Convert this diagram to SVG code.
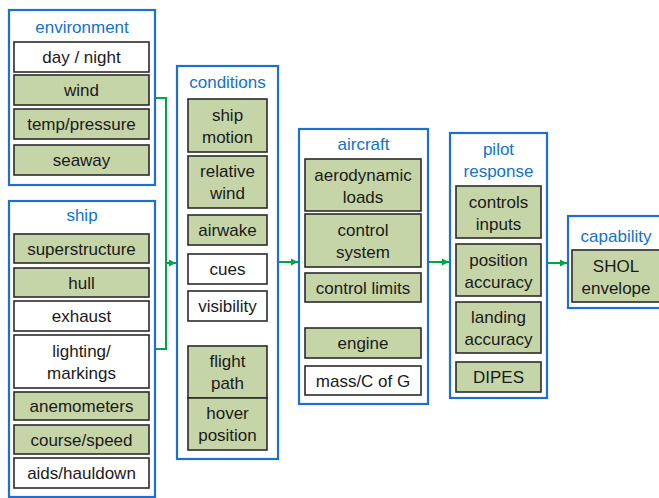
<svg xmlns="http://www.w3.org/2000/svg" width="659" height="498" viewBox="0 0 659 498">
<defs>
<style>
.grp{fill:#fff;stroke:#1f6fd1;stroke-width:2.2}
.g{fill:#c6d5a8;stroke:#2b2b2b;stroke-width:1.6}
.w{fill:#fff;stroke:#2b2b2b;stroke-width:1.6}
text{font-family:"Liberation Sans",Arial,sans-serif;font-size:17px;fill:#1a1a1a;text-anchor:middle}
.t{fill:#1273c9}
.c{fill:none;stroke:#00a443;stroke-width:2}
</style>
<marker id="ah" markerUnits="userSpaceOnUse" markerWidth="8" markerHeight="8" refX="7" refY="4" orient="auto">
<path d="M0,0.5 L7,4 L0,7.5 Z" fill="#00a443"/>
</marker>
</defs>

<g id="connectors">
<path class="c" d="M155 98 H166 V349 H155"/>
<path class="c" d="M166 263 H176" marker-end="url(#ah)"/>
<path class="c" d="M278 262 H298" marker-end="url(#ah)"/>
<path class="c" d="M428 262 H449" marker-end="url(#ah)"/>
<path class="c" d="M547 263 H567" marker-end="url(#ah)"/>
</g>

<g id="environment">
<rect class="grp" x="9" y="10" width="146" height="175"/>
<text class="t" x="82" y="33">environment</text>
<rect class="w" x="14" y="42" width="135" height="30"/><text x="81.5" y="63">day / night</text>
<rect class="g" x="14" y="75" width="135" height="30"/><text x="81.5" y="96">wind</text>
<rect class="g" x="14" y="109" width="135" height="30"/><text x="81.5" y="130">temp/pressure</text>
<rect class="g" x="14" y="145" width="135" height="30"/><text x="81.5" y="166">seaway</text>
</g>

<g id="ship">
<rect class="grp" x="9" y="201" width="146" height="296"/>
<text class="t" x="82" y="221">ship</text>
<rect class="g" x="14" y="234" width="135" height="29"/><text x="81.5" y="255">superstructure</text>
<rect class="g" x="14" y="268" width="135" height="29"/><text x="81.5" y="289">hull</text>
<rect class="w" x="14" y="301" width="135" height="30"/><text x="81.5" y="322">exhaust</text>
<rect class="w" x="14" y="335" width="135" height="53"/><text x="81.5" y="357">lighting/</text><text x="81.5" y="379">markings</text>
<rect class="g" x="14" y="392" width="135" height="28"/><text x="81.5" y="412">anemometers</text>
<rect class="g" x="14" y="425" width="135" height="29"/><text x="81.5" y="446">course/speed</text>
<rect class="w" x="14" y="458" width="135" height="30"/><text x="81.5" y="479">aids/hauldown</text>
</g>

<g id="conditions">
<rect class="grp" x="177" y="66" width="101" height="393"/>
<text class="t" x="227.5" y="88">conditions</text>
<rect class="g" x="188" y="99" width="79" height="53"/><text x="227.5" y="121">ship</text><text x="227.5" y="143">motion</text>
<rect class="g" x="188" y="156" width="79" height="52"/><text x="227.5" y="177">relative</text><text x="227.5" y="199">wind</text>
<rect class="g" x="188" y="215" width="79" height="30"/><text x="227.5" y="236">airwake</text>
<rect class="w" x="188" y="254" width="79" height="30"/><text x="227.5" y="275">cues</text>
<rect class="w" x="188" y="291" width="79" height="30"/><text x="227.5" y="312">visibility</text>
<rect class="g" x="188" y="346" width="79" height="52"/><text x="227.5" y="367">flight</text><text x="227.5" y="389">path</text>
<rect class="g" x="188" y="398" width="79" height="52"/><text x="227.5" y="419">hover</text><text x="227.5" y="441">position</text>
</g>

<g id="aircraft">
<rect class="grp" x="299" y="129" width="129" height="275"/>
<text class="t" x="363.5" y="150">aircraft</text>
<rect class="g" x="305" y="159" width="116" height="52"/><text x="363" y="181">aerodynamic</text><text x="363" y="203">loads</text>
<rect class="g" x="305" y="214" width="116" height="53"/><text x="363" y="236">control</text><text x="363" y="258">system</text>
<rect class="g" x="305" y="273" width="116" height="29"/><text x="363" y="294">control limits</text>
<rect class="g" x="305" y="328" width="116" height="30"/><text x="363" y="349">engine</text>
<rect class="w" x="305" y="366" width="116" height="29"/><text x="363" y="387">mass/C of G</text>
</g>

<g id="pilot-response">
<rect class="grp" x="450" y="133" width="97" height="265"/>
<text class="t" x="498.5" y="155">pilot</text>
<text class="t" x="498.5" y="177">response</text>
<rect class="g" x="456" y="186" width="85" height="52"/><text x="498.5" y="208">controls</text><text x="498.5" y="230">inputs</text>
<rect class="g" x="456" y="244" width="85" height="52"/><text x="498.5" y="266">position</text><text x="498.5" y="288">accuracy</text>
<rect class="g" x="456" y="302" width="85" height="51"/><text x="498.5" y="323">landing</text><text x="498.5" y="345">accuracy</text>
<rect class="g" x="456" y="362" width="85" height="30"/><text x="498.5" y="383">DIPES</text>
</g>

<g id="capability">
<rect class="grp" x="568" y="216" width="96" height="92"/>
<text class="t" x="616" y="242">capability</text>
<rect class="g" x="572" y="250" width="88" height="52"/><text x="616" y="272">SHOL</text><text x="616" y="294">envelope</text>
</g>
</svg>
